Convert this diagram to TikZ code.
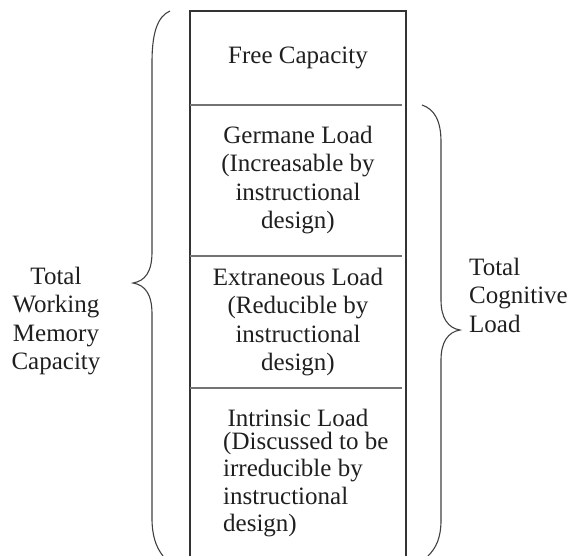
\documentclass[tikz,border=0pt]{standalone}
\usepackage{fontspec}
\setmainfont{Liberation Serif}
\usetikzlibrary{positioning}

\tikzset{
  loadtext/.style={align=center, inner sep=0pt, text=black!88,
    font=\fontsize{25}{28.5}\selectfont},
  notetext/.style={align=left, inner sep=0pt, text=black!88,
    font=\fontsize{25}{27.3}\selectfont},
  columnline/.style={draw=black!80, line width=1.2pt},
  divider/.style={draw=black!55, line width=1.3pt},
  brace/.style={draw=black!75, line width=1.1pt}
}

\begin{document}
\begin{tikzpicture}[x=1pt,y=-1pt]
    \useasboundingbox (0,0) rectangle (572,555);
    % memory column
    \draw[columnline] (190,560) -- (190,11) -- (406,11) -- (406,560);
    \draw[divider] (190,105) -- (402,105);
    \draw[divider] (190,256) -- (402,256);
    \draw[divider] (190,388) -- (402,388);

    % sections
    \node[loadtext] (freecap) at (298,58) {Free Capacity};
    \node[loadtext] (germane) at (298,180) {Germane Load\\(Increasable by\\instructional\\design)};
    \node[loadtext] (extraneous) at (298,322) {Extraneous Load\\(Reducible by\\instructional\\design)};
    \node[loadtext] (intrinsic) at (298,418) {Intrinsic Load};
    \node[notetext, anchor=north west] (intrinsicnote) at (223,432) {(Discussed to be\\irreducible by\\instructional\\design)};

    % braces
    \draw[brace] (170,11) .. controls (158,16) and (152,32) .. (152,62) -- (152,252)
        .. controls (152,272) and (145,281) .. (133,283)
        .. controls (145,285) and (152,294) .. (152,314) -- (152,518)
        .. controls (152,536) and (156,547) .. (163,556);
    \draw[brace] (422,105) .. controls (434,109) and (441,120) .. (441,142) -- (441,300)
        .. controls (441,318) and (448,328) .. (460,330)
        .. controls (448,332) and (441,342) .. (441,360) -- (441,520)
        .. controls (441,538) and (436,548) .. (428,556);

    % labels
    \node[loadtext] (wmcap) at (56,321) {Total\\Working\\Memory\\Capacity};
    \node[loadtext, align=left, anchor=west] (cogload) at (469,295) {Total\\Cognitive\\Load};
\end{tikzpicture}
\end{document}
